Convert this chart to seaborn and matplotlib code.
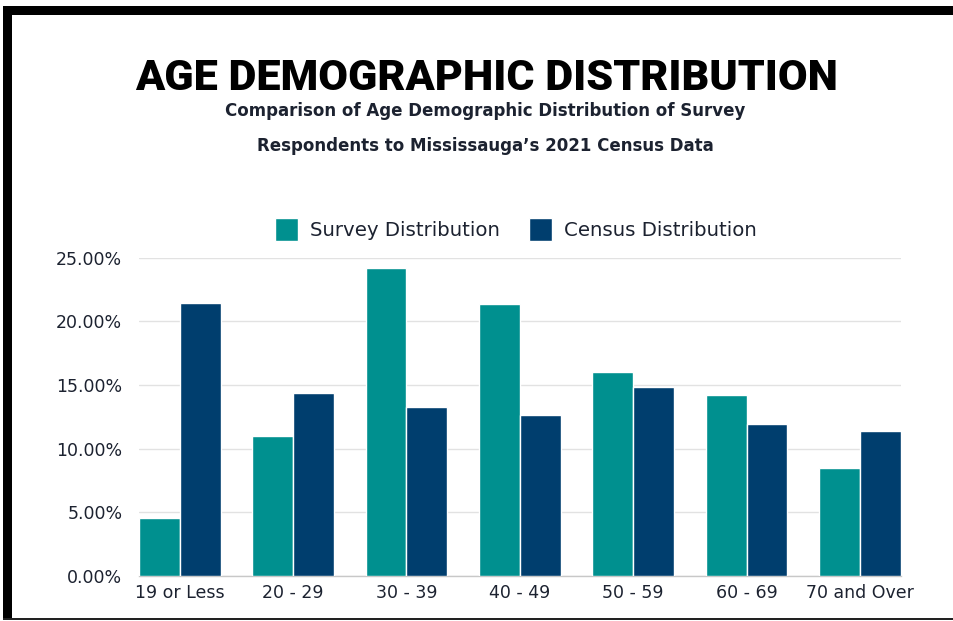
import numpy as np
import pandas as pd
import matplotlib
matplotlib.use("Agg")
import matplotlib.pyplot as plt
import seaborn as sns
from matplotlib.patches import Rectangle

# data (percent)
age_groups = ["19 or Less", "20 - 29", "30 - 39", "40 - 49", "50 - 59", "60 - 69", "70 and Over"]
survey_pct = [4.55, 10.98, 24.16, 21.39, 16.05, 14.20, 8.47]
census_pct = [21.42, 14.38, 13.25, 12.63, 14.82, 11.97, 11.35]
series_names = ["Survey Distribution", "Census Distribution"]
y_ticks = [0, 5, 10, 15, 20, 25]

df = pd.DataFrame({
    "age": age_groups * 2,
    "pct": survey_pct + census_pct,
    "series": [series_names[0]] * len(age_groups) + [series_names[1]] * len(age_groups),
})

teal = "#00908F"
navy = "#003E6E"
txt = "#1c2230"

sns.set_style("white")
plt.rcParams["font.family"] = ["DejaVu Sans"]

fig = plt.figure(figsize=(9.54, 6.21), dpi=100)
ax = fig.add_axes([0.1457, 0.0725, 0.7984, 0.5128])

sns.barplot(data=df, x="age", y="pct", hue="series", palette=[teal, navy],
            saturation=1, width=0.72, edgecolor="white", linewidth=1.0,
            ax=ax, zorder=3)

ax.set_xlim(-0.36, len(age_groups) - 1 + 0.36)
ax.set_ylim(0, 25)
ax.set_yticks(y_ticks)
ax.set_yticklabels(["{:.2f}%".format(v) for v in y_ticks])
ax.yaxis.grid(True, color="#e2e2e2", linewidth=1, zorder=0)
ax.set_axisbelow(True)
for s in ["top", "right", "left"]:
    ax.spines[s].set_visible(False)
ax.spines["bottom"].set_color("#c8c8c8")
ax.spines["bottom"].set_linewidth(1)
ax.tick_params(axis="y", length=0, pad=12, labelsize=12.5, labelcolor=txt)
ax.tick_params(axis="x", length=0, pad=6, labelsize=12.5, labelcolor=txt)
ax.set_xlabel("")
ax.set_ylabel("")

handles, labels = ax.get_legend_handles_labels()
ax.legend(handles, labels, loc="center", bbox_to_anchor=(0.541, 0.631),
          bbox_transform=fig.transFigure, ncol=2, frameon=False,
          fontsize=14.2, labelcolor=txt, handlelength=1.15, handleheight=1.4,
          handletextpad=0.6, columnspacing=1.5)

# titles
fig.text(0.510, 0.855, "AGE DEMOGRAPHIC DISTRIBUTION", ha="center", va="baseline",
         fontsize=31, fontweight="black", color="black",
         family=["Roboto", "DejaVu Sans"])
fig.text(0.509, 0.813, "Comparison of Age Demographic Distribution of Survey",
         ha="center", va="baseline", fontsize=12, fontweight="bold", color=txt)
fig.text(0.509, 0.757, "Respondents to Mississauga\u2019s 2021 Census Data",
         ha="center", va="baseline", fontsize=12, fontweight="bold", color=txt)

# black frame
fig.add_artist(Rectangle((0.003, 1 - 15 / 621), 0.997, 9 / 621, transform=fig.transFigure,
                         facecolor="black", edgecolor="none"))
fig.add_artist(Rectangle((0.003, 1 - 618 / 621), 9 / 954, 612 / 621, transform=fig.transFigure,
                         facecolor="black", edgecolor="none"))
fig.add_artist(Rectangle((0.003, 1 - 620 / 621), 0.997, 2.5 / 621, transform=fig.transFigure,
                         facecolor="#222222", edgecolor="none"))

fig.savefig("out.png", dpi=100)
